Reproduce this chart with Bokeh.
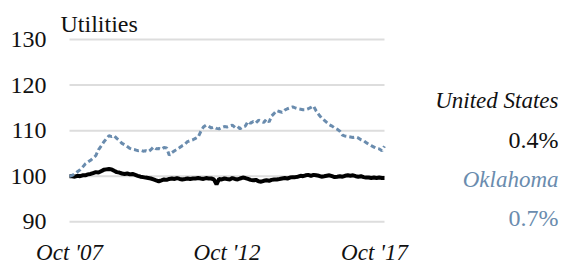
import pandas as pd
from bokeh.plotting import figure
from bokeh.models import Label, Range1d, ColumnDataSource
from bokeh.embed import file_html
from bokeh.resources import INLINE

# ---- data (monthly index, Oct 2007 = 100) ----
months = pd.date_range("2007-10-01", periods=121, freq="MS")

us = [100.0, 100.0, 99.9, 100.1, 100.0, 100.2, 100.2, 100.4, 100.5, 100.7,
      100.9, 100.8, 101.1, 101.4, 101.5, 101.6, 101.5, 101.2, 100.9, 100.8,
      100.6, 100.5, 100.6, 100.4, 100.5, 100.3, 100.1, 99.9, 99.8, 99.7,
      99.6, 99.5, 99.3, 99.1, 98.9, 99.1, 99.3, 99.2, 99.4, 99.5,
      99.4, 99.6, 99.4, 99.3, 99.4, 99.5, 99.4, 99.5, 99.5, 99.6,
      99.5, 99.4, 99.6, 99.5, 99.5, 99.3, 98.2, 99.4, 99.3, 99.5,
      99.4, 99.3, 99.6, 99.4, 99.3, 99.5, 99.7, 99.6, 99.4, 99.2,
      99.1, 99.2, 98.9, 98.8, 99.0, 99.1, 99.0, 99.2, 99.3, 99.3,
      99.4, 99.5, 99.6, 99.5, 99.7, 99.8, 99.8, 99.9, 100.1, 100.0,
      100.2, 100.3, 100.1, 100.3, 100.2, 100.1, 99.9, 100.0, 100.1, 100.2,
      100.0, 99.8, 99.9, 100.0, 99.9, 100.1, 100.2, 100.1, 100.2, 100.0,
      99.9, 100.0, 99.8, 99.7, 99.7, 99.6, 99.7, 99.6, 99.7, 99.6,
      99.6]

ok = [100.0, 100.2, 100.5, 101.0, 101.4, 102.0, 102.7, 103.1, 103.5, 104.0,
      104.5, 105.8, 106.6, 107.5, 108.2, 108.9, 108.7, 108.9, 108.3, 107.8,
      107.2, 106.9, 106.5, 106.1, 105.9, 105.8, 105.6, 105.7, 105.5, 105.6,
      105.4, 105.8, 106.4, 106.0, 106.1, 105.9, 106.3, 106.2, 104.6, 105.2,
      105.6, 105.9, 106.3, 106.7, 107.0, 107.6, 107.8, 108.0, 108.3, 108.6,
      109.8, 110.8, 111.2, 111.0, 110.6, 110.8, 110.5, 110.4, 110.7, 110.9,
      110.8, 111.0, 111.2, 110.7, 110.9, 110.4, 110.8, 111.0, 112.0, 111.6,
      112.0, 111.7, 112.3, 112.0, 111.8, 112.5, 111.9, 113.2, 113.8, 114.4,
      114.2, 114.0, 114.5, 114.8, 115.0, 115.2, 115.0, 114.8, 114.7, 114.6,
      114.6, 114.8, 115.1, 115.4, 114.3, 113.5, 112.8, 112.3, 111.8, 111.3,
      111.0, 110.6, 110.3, 109.9, 109.0, 108.8, 108.7, 108.6, 108.5, 108.6,
      108.4, 108.0, 107.8, 107.4, 107.0, 106.7, 106.4, 106.1, 106.0, 105.6,
      106.6]

y_ticks = [90, 100, 110, 120, 130]
y_tick_labels = ["90", "100", "110", "120", "130"]
x_tick_dates = ["2007-10-01", "2012-10-01", "2017-10-01"]
x_tick_labels = ["Oct '07", "Oct '12", "Oct '17"]
chart_title = "Utilities"
series_names = ["United States", "Oklahoma"]
series_changes = ["0.4%", "0.7%"]

# ---- styling / geometry ----
FONT = "Liberation Serif"
BLACK = "#111111"
BLUE = "#6a8cae"
GRID = "#dddddd"

W, H = 563, 264
PLOT_L, PLOT_R = 69, 384          # px of first / last month
PX_PER_UNIT = 4.5575              # vertical px per index point
Y90 = 221.3                       # px (from top) of the 90 line


def ms(d):
    return pd.Timestamp(d).value / 1e6


t0, t1 = ms(months[0]), ms(months[-1])
span = t1 - t0
x_start = t0 - PLOT_L / (PLOT_R - PLOT_L) * span
x_end = t0 + (W - PLOT_L) / (PLOT_R - PLOT_L) * span
y_end = 90 + Y90 / PX_PER_UNIT
y_start = 90 - (H - Y90) / PX_PER_UNIT

p = figure(width=W, height=H, x_axis_type="datetime",
           output_backend="svg", toolbar_location=None,
           x_range=Range1d(x_start, x_end), y_range=Range1d(y_start, y_end),
           min_border=0)
p.outline_line_color = None
p.xaxis.visible = False
p.yaxis.visible = False
p.xgrid.visible = False
p.ygrid.visible = False

# horizontal grid lines at the y ticks, spanning the data's date range
p.segment(x0=[t0] * len(y_ticks), x1=[t1] * len(y_ticks),
          y0=y_ticks, y1=y_ticks, line_color=GRID, line_width=2)

src = ColumnDataSource(dict(date=months, us=us, ok=ok))
p.line("date", "us", source=src, line_color="#000000", line_width=4)
p.line("date", "ok", source=src, line_color=BLUE, line_width=3, line_dash="5 3")

# y tick labels
for v, lab in zip(y_ticks, y_tick_labels):
    p.add_layout(Label(x=t0, y=v, x_offset=-23, text=lab, text_font=FONT,
                       text_font_size="24px", text_color=BLACK,
                       text_align="right", text_baseline="middle"))

# title
p.add_layout(Label(x=t0, y=y_ticks[-1], x_offset=-9, y_offset=15.5,
                   text=chart_title, text_font=FONT, text_font_size="24px",
                   text_color=BLACK, text_align="left", text_baseline="middle"))

# x tick labels
x_nudges = [0, 0, -10]
for d, lab, nx in zip(x_tick_dates, x_tick_labels, x_nudges):
    p.add_layout(Label(x=ms(d), y=y_ticks[0], x_offset=nx, y_offset=-30.7,
                       text=lab, text_font=FONT, text_font_size="23px",
                       text_font_style="italic", text_color=BLACK,
                       text_align="center", text_baseline="middle"))

# right-side legend texts
legend_items = [
    (series_names[0], "italic", BLACK, 75.3, "23px"),
    (series_changes[0], "normal", BLACK, 35.8, "24px"),
    (series_names[1], "italic", BLUE, -3.0, "23px"),
    (series_changes[1], "normal", BLUE, -41.4, "24px"),
]
for txt, style, col, yo, fs in legend_items:
    p.add_layout(Label(x=t1, y=100, x_offset=174, y_offset=yo,
                       text=txt, text_font=FONT, text_font_size=fs,
                       text_font_style=style, text_color=col,
                       text_align="right", text_baseline="middle"))

open("out.html", "w").write(file_html(p, INLINE))
